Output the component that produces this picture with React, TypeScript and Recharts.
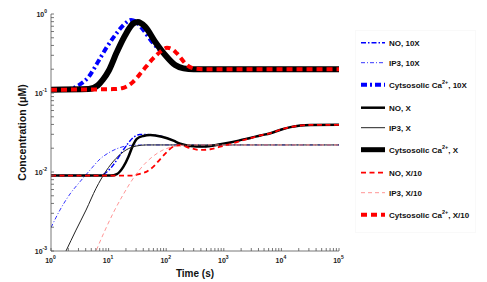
import React from 'react';
import { LineChart, Line, XAxis, YAxis } from 'recharts';

type Pt = { t: number; v: number };
const P = (pairs: number[][]): Pt[] => pairs.map(([t, v]) => ({ t, v }));

// NO, 10X
const noHigh = P([[1,0.009],[7,0.009],[9.3,0.0100],[12.1,0.0123],[15.8,0.0164],[20.7,0.022],[27,0.0274],[35,0.0298],[46,0.0299],[60,0.0293],[84,0.0281],[134,0.025],[175,0.0227],[261,0.0214],[440,0.021],[869,0.0224],[1300,0.0236],[1940,0.0253],[2890,0.027],[4310,0.029],[6440,0.031],[10000,0.0345],[14350,0.037],[21400,0.0388],[31900,0.0394],[100000,0.0395]]);
// IP3, 10X
const ip3High = P([[1,0.00198],[1.43,0.0033],[2.14,0.00527],[3.19,0.00754],[4.77,0.0106],[7.1,0.0146],[10.6,0.0179],[15.8,0.0204],[23.6,0.0217],[43,0.022],[100000,0.022]]);
// Cytosolic Ca2+, 10X
const caHigh = P([[1,0.11],[2,0.112],[3,0.125],[4.5,0.16],[6.6,0.25],[9.3,0.38],[13,0.54],[18,0.72],[24.5,0.84],[30,0.8],[38,0.66],[56,0.45],[96,0.3],[143,0.226],[200,0.206],[300,0.2],[100000,0.2]]);
// NO, X
const noMid = P([[1,0.009],[11,0.009],[13.9,0.0094],[18.1,0.0117],[22.1,0.0156],[25.9,0.0209],[30.9,0.0262],[40,0.0286],[52.7,0.0294],[84,0.028],[134,0.0249],[175,0.0228],[261,0.0214],[440,0.021],[869,0.0224],[1300,0.0236],[1940,0.0253],[2890,0.027],[4310,0.029],[6440,0.031],[10000,0.0345],[14350,0.037],[21400,0.0388],[31900,0.0394],[100000,0.0395]]);
// IP3, X
const ip3Mid = P([[1,0.0004],[1.82,0.001],[2.72,0.00184],[4.06,0.0033],[6.06,0.00622],[9.05,0.0103],[13.5,0.0149],[20.1,0.019],[30.1,0.0213],[45,0.022],[100000,0.022]]);
// Cytosolic Ca2+, X
const caMid = P([[1,0.11],[4.5,0.112],[6.5,0.125],[8,0.148],[10,0.19],[13.9,0.33],[19.4,0.54],[27,0.76],[32.2,0.79],[43,0.69],[64,0.446],[96,0.303],[143,0.226],[200,0.205],[300,0.2],[100000,0.2]]);
// NO, X/10
const noLow = P([[1,0.009],[26,0.009],[35,0.0095],[46,0.0101],[60,0.0117],[79,0.0146],[103,0.0179],[134,0.021],[175,0.0218],[261,0.0201],[390,0.019],[582,0.0194],[869,0.0209],[1300,0.0226],[1940,0.0246],[2890,0.0268],[4310,0.029],[6440,0.031],[10000,0.0345],[14350,0.037],[21400,0.0388],[31900,0.0394],[100000,0.0395]]);
// IP3, X/10
const ip3Low = P([[5,0.0007],[6.06,0.001],[8.7,0.00184],[12.5,0.0032],[18.6,0.00542],[27.8,0.00865],[41.4,0.01245],[61.8,0.0162],[92.3,0.0193],[138,0.021],[206,0.0218],[300,0.022],[100000,0.022]]);
// Cytosolic Ca2+, X/10
const caLow = P([[1,0.11],[12,0.112],[17,0.115],[25,0.133],[38,0.186],[56,0.262],[79,0.333],[103,0.374],[125,0.36],[153,0.318],[229,0.226],[318,0.203],[500,0.2],[100000,0.2]]);

const xDecades = [0, 1, 2, 3, 4, 5];
const yDecades = [-3, -2, -1, 0];
const minorMultipliers = [1, 2, 3, 4, 5, 6, 7, 8, 9];

const xTitle = 'Time (s)';
const yTitle = 'Concentration (\u03bcM)';

type Series = {
  id: string; pre: string; sup: string; post: string; data: Pt[];
  color: string; width: number; dash?: string; legendWidth?: number;
};

const series: Series[] = [
  { id: 'noHigh', pre: 'NO, 10X', sup: '', post: '', data: noHigh, color: '#0000ff', width: 1.5, dash: '5 2 1.5 2' },
  { id: 'ip3High', pre: 'IP3, 10X', sup: '', post: '', data: ip3High, color: '#0000ff', width: 0.8, dash: '4 2 1 2' },
  { id: 'caHigh', pre: 'Cytsosolic Ca', sup: '2+', post: ', 10X', data: caHigh, color: '#0000ff', width: 4, dash: '6 3 2 3' },
  { id: 'noMid', pre: 'NO, X', sup: '', post: '', data: noMid, color: '#000000', width: 2.5 },
  { id: 'ip3Mid', pre: 'IP3, X', sup: '', post: '', data: ip3Mid, color: '#222222', width: 1 },
  { id: 'caMid', pre: 'Cytsosolic Ca', sup: '2+', post: ', X', data: caMid, color: '#000000', width: 6, legendWidth: 5 },
  { id: 'noLow', pre: 'NO, X/10', sup: '', post: '', data: noLow, color: '#ff0000', width: 1.8, dash: '5 3.5' },
  { id: 'ip3Low', pre: 'IP3, X/10', sup: '', post: '', data: ip3Low, color: '#ff8a8a', width: 0.9, dash: '4 3' },
  { id: 'caLow', pre: 'Cytsosolic Ca', sup: '2+', post: ', X/10', data: caLow, color: '#ff0000', width: 4, dash: '6 4' },
];

const AXIS = '#555555';
const FONT = '"Liberation Sans", Arial, Helvetica, sans-serif';

function logTicks(decades: number[]): number[] {
  const out: number[] = [];
  decades.forEach((d, i) => {
    if (i === decades.length - 1) {
      out.push(Math.pow(10, d));
      return;
    }
    minorMultipliers.forEach((m) => out.push(m * Math.pow(10, d)));
  });
  return out;
}

const xTicks = logTicks(xDecades);
const yTicks = logTicks(yDecades);

const decadeOf = (v: number) => {
  const lg = Math.log10(v);
  const e = Math.round(lg);
  return { e, major: Math.abs(lg - e) < 1e-6 };
};

const XTick = (p: any) => {
  const { x, y, payload } = p;
  const { e, major } = decadeOf(payload.value);
  return (
    <g>
      <line x1={x} x2={x} y1={y} y2={y - 3} stroke={AXIS} strokeWidth={0.8} />
      {major && (
        <text x={x - 0.5} y={y + 12} textAnchor="middle" fontFamily={FONT} fontSize={7} fontWeight="bold" fill="#222">
          10<tspan dy={-4} fontSize={5}>{e}</tspan>
        </text>
      )}
    </g>
  );
};

const YTick = (p: any) => {
  const { x, y, payload } = p;
  const { e, major } = decadeOf(payload.value);
  return (
    <g>
      <line x1={x} x2={x + 3} y1={y} y2={y} stroke={AXIS} strokeWidth={0.8} />
      {major && (
        <text x={x - 4} y={y + 2.5} textAnchor="end" fontFamily={FONT} fontSize={7} fontWeight="bold" fill="#222">
          10<tspan dy={-4} fontSize={5}>{e}</tspan>
        </text>
      )}
    </g>
  );
};

const XTitle = (p: any) => {
  const vb = p.viewBox || {};
  return (
    <text x={vb.x + vb.width / 2} y={vb.y + 26} textAnchor="middle" fontFamily={FONT} fontSize={10} fontWeight="bold" fill="#111">
      {xTitle}
    </text>
  );
};

const YTitle = (p: any) => {
  const vb = p.viewBox || {};
  const cx = 26;
  const cy = vb.y + vb.height / 2;
  return (
    <text x={cx} y={cy} transform={`rotate(-90 ${cx} ${cy})`} textAnchor="middle" fontFamily={FONT} fontSize={10.5} fontWeight="bold" fill="#111">
      {yTitle}
    </text>
  );
};

const LegendBox = () => {
  const ys: number[] = [];
  let y = 12.7;
  series.forEach((s, i) => {
    if (i > 0) {
      const prev = series[i - 1];
      y += 20 + (prev.sup ? 3 : 0) + (s.sup ? 2 : 0);
    }
    ys.push(y);
  });
  return (
    <svg width={125} height={205} style={{ position: 'absolute', left: 355, top: 30 }}>
      <rect x={0.5} y={0.5} width={120} height={202} fill="none" stroke="#f9f9f9" />
      {series.map((s, i) => (
        <g key={s.id}>
          <line x1={6} x2={30} y1={ys[i]} y2={ys[i]} stroke={s.color} strokeWidth={s.legendWidth ?? s.width} strokeDasharray={s.dash} />
          <text x={34} y={ys[i] + 3} fontFamily={FONT} fontSize={8} fontWeight="bold" fill="#111">
            {s.pre}
            {s.sup && <tspan dy={-3.5} fontSize={5.5}>{s.sup}</tspan>}
            {s.post && <tspan dy={s.sup ? 3.5 : 0}>{s.post}</tspan>}
          </text>
        </g>
      ))}
    </svg>
  );
};

export default function App() {
  return (
    <div style={{ position: 'absolute', left: 0, top: 0, width: 487, height: 282, background: '#fff' }}>
      <LineChart width={487} height={282} margin={{ top: 14, right: 148, bottom: 0, left: 0 }}>
        <XAxis
          dataKey="t"
          type="number"
          scale="log"
          domain={[1, 100000]}
          allowDataOverflow
          ticks={xTicks}
          interval={0}
          tick={<XTick />}
          tickSize={0}
          tickMargin={0}
          tickLine={false}
          axisLine={{ stroke: AXIS, strokeWidth: 0.8 }}
          height={31}
          label={<XTitle />}
        />
        <YAxis
          dataKey="v"
          type="number"
          scale="log"
          domain={[0.001, 1]}
          allowDataOverflow
          ticks={yTicks}
          interval={0}
          tick={<YTick />}
          tickSize={0}
          tickMargin={0}
          tickLine={false}
          axisLine={{ stroke: AXIS, strokeWidth: 0.8 }}
          width={51}
          label={<YTitle />}
        />
        {series.map((s) => (
          <Line
            key={s.id}
            data={s.data}
            dataKey="v"
            type="monotone"
            stroke={s.color}
            strokeWidth={s.width}
            strokeDasharray={s.dash}
            dot={false}
            activeDot={false}
            isAnimationActive={false}
          />
        ))}
      </LineChart>
      <LegendBox />
    </div>
  );
}
